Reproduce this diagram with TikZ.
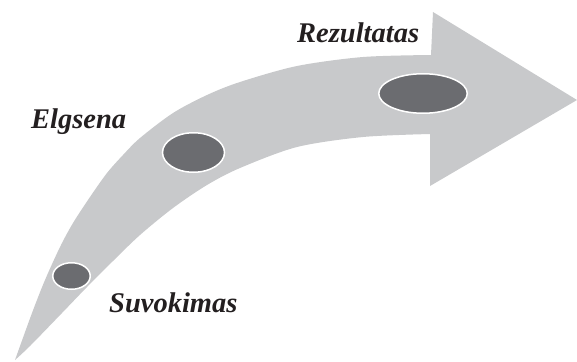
\documentclass[tikz,border=0pt]{standalone}
\usepackage{fontspec}
\setmainfont{Liberation Serif}
\definecolor{arrowgray}{HTML}{C8C9CB}
\definecolor{dotgray}{HTML}{6B6C70}
\definecolor{txt}{HTML}{231F20}
\begin{document}
\begin{tikzpicture}[x=1pt,y=-1pt,
  dot/.style={ellipse, fill=dotgray, draw=white, line width=1.5pt, inner sep=0pt},
  lbl/.style={anchor=base west, inner sep=0pt, text=txt, font=\fontsize{28.5}{32}\selectfont\bfseries\itshape}]
\usetikzlibrary{shapes.geometric}
\useasboundingbox (0,0) rectangle (577,361);
\fill[arrowgray]
  plot[smooth, tension=0.5] coordinates {(15,360) (32,313) (45,280) (60,247) (73,223) (90,197) (107,173) (123,155) (140,138) (173,113) (207,95) (240,82) (297,66) (363,57) (431,55)}
  -- (433,12) -- (577,100) -- (430,186) -- (430,134)
  -- plot[smooth, tension=0.5] coordinates {(430,134) (363,137) (297,147) (240,168) (207,185) (173,208) (140,235) (113,261) (87,287) (62,313) (30,346) (15,360)}
  -- cycle;
\node[dot, minimum width=37.5pt, minimum height=26.5pt] (d1) at (71.5,276) {};
\node[dot, minimum width=62pt, minimum height=39.5pt] (d2) at (193.5,152.5) {};
\node[dot, minimum width=88.5pt, minimum height=39.5pt] (d3) at (423,93.5) {};
\node[lbl] (l3) at (297,42) {Rezultatas};
\node[lbl] (l2) at (31,128) {Elgsena};
\node[lbl] (l1) at (109,312) {Suvokimas};
\end{tikzpicture}
\end{document}
